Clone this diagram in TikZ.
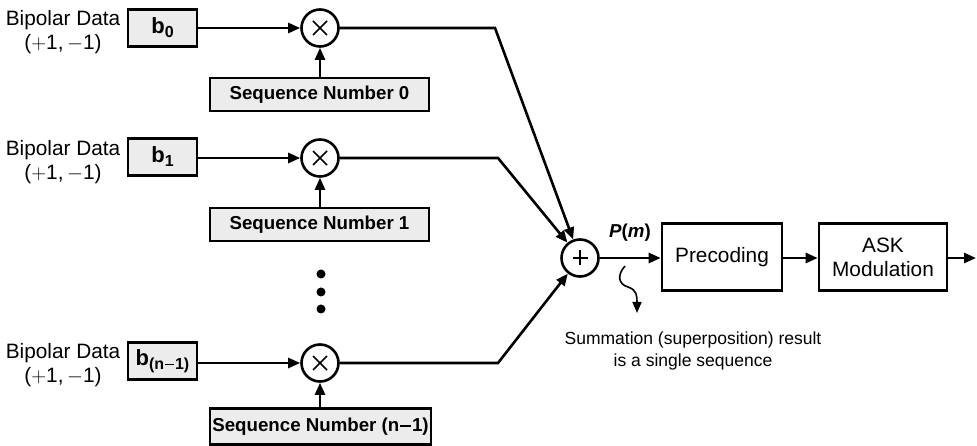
\documentclass[tikz,border=0pt]{standalone}
\usepackage{fontspec}
\setmainfont{Liberation Sans}
\usetikzlibrary{arrows.meta}
\newcommand{\rfont}{\fontsize{20.8bp}{24bp}\selectfont}
\newcommand{\bfontx}{\fontsize{18.7bp}{22bp}\selectfont\bfseries}
\newcommand{\afont}{\fontsize{17.5bp}{22bp}\selectfont}
\newcommand{\bminus}{\kern0.04em\rule[0.24em]{0.6em}{0.1em}\kern0.04em}
\newcommand{\bsub}[1]{\textbf{\fontsize{22bp}{22bp}\selectfont b\raisebox{-4bp}{\fontsize{16bp}{16bp}\selectfont #1}}}
\newcommand{\bipolar}{Bipolar Data\\($+$1,\,$-$1)}
\tikzset{
  lw/.style={line width=2.6bp},
  conn/.style={lw, -{Triangle[length=12bp,width=10bp]}},
  databox/.style={draw, lw, fill=gray!15, minimum width=69bp, minimum height=37bp, inner sep=0pt},
  seqbox/.style={draw, lw, fill=gray!15, minimum width=219bp, minimum height=33bp, inner sep=0pt, font=\bfontx},
  opnode/.style={draw, circle, lw, minimum size=37bp, inner sep=0pt, fill=white},
  procbox/.style={draw, lw, minimum height=67bp, inner sep=0pt, align=center, font=\rfont},
  lbl/.style={align=center, font=\rfont, inner sep=0pt},
  ann/.style={align=center, font=\afont, inner sep=0pt},
  sym/.style={line width=1.7bp},
  dotm/.style={fill=black},
}
\begin{document}
\begin{tikzpicture}[x=1bp,y=-1bp]
\useasboundingbox (0,0) rectangle (977,446);
% sum and processing chain
\node[opnode] (sum) at (580,258) {};
\draw[sym] (sum.center) ++(-7.5bp,0) -- ++(15bp,0);
\draw[sym] (sum.center) ++(0,-7.5bp) -- ++(0,15bp);
\node[procbox, minimum width=120bp] (pre) at (722,257) {Precoding};
\node[procbox, minimum width=128bp] (ask) at (883,257) {ASK\\Modulation};
\coordinate (out) at (976,258);
\node[font=\bfontx, inner sep=0pt] (pm) at (630,233) {\textit{P}(\textit{m})};
\draw[conn] (sum.east) -- (sum.east -| pre.west);
\draw[conn] (pre.east |- sum) -- (ask.west |- sum);
\draw[conn] (ask.east |- sum) -- (out);
% annotation
\coordinate (sq0) at (625,266);
\coordinate (sq1) at (628,287);
\coordinate (sq2) at (637,313);
\draw[line width=1.6bp, -{Triangle[length=11bp,width=9bp]}] (sq0) .. controls (617,275) and (618,284) .. (sq1) .. controls (637,290) and (637,296) .. (sq2);
\node[ann] (note) at (693,351) {Summation (superposition) result\\is a single sequence};
% row 0
\node[lbl] (bd0) at (63,32) {\bipolar};
\node[databox] (b0) at (162.5,28) {\bsub{0}};
\node[opnode] (m0) at (320,28) {};
\draw[sym] (m0.center) ++(-7bp,-7bp) -- ++(14bp,14bp);
\draw[sym] (m0.center) ++(-7bp,7bp) -- ++(14bp,-14bp);
\node[seqbox] (s0) at (319.5,94.5) {Sequence Number 0};
\coordinate (k0) at (495,28);
\draw[conn] (b0.east |- m0) -- (m0);
\draw[conn] (s0.north -| m0) -- (m0);
\draw[conn] (m0) -- (k0) -- (sum);
% row 1
\node[lbl] (bd1) at (63,162) {\bipolar};
\node[databox] (b1) at (162.5,157) {\bsub{1}};
\node[opnode] (m1) at (320,158) {};
\draw[sym] (m1.center) ++(-7bp,-7bp) -- ++(14bp,14bp);
\draw[sym] (m1.center) ++(-7bp,7bp) -- ++(14bp,-14bp);
\node[seqbox] (s1) at (319.5,224.5) {Sequence Number 1};
\coordinate (k1) at (498,158);
\draw[conn] (b1.east |- m1) -- (m1);
\draw[conn] (s1.north -| m1) -- (m1);
\draw[conn] (m1) -- (k1) -- (sum);
% dots
\fill[dotm] (321,274) circle (4.5bp);
\fill[dotm] (321,292) circle (4.5bp);
\fill[dotm] (321,309) circle (4.5bp);
% row n-1
\node[lbl] (bdn) at (63,365) {\bipolar};
\node[databox] (bn) at (162.5,361) {\bsub{(n\bminus 1)}};
\node[opnode] (mn) at (320,363) {};
\draw[sym] (mn.center) ++(-7bp,-7bp) -- ++(14bp,14bp);
\draw[sym] (mn.center) ++(-7bp,7bp) -- ++(14bp,-14bp);
\node[seqbox, minimum width=221bp, minimum height=36bp] (sn) at (320.5,426.5) {Sequence Number (n\bminus 1)};
\coordinate (kn) at (498,363);
\draw[conn] (bn.east |- mn) -- (mn);
\draw[conn] (sn.north -| mn) -- (mn);
\draw[conn] (mn) -- (kn) -- (sum);
\end{tikzpicture}
\end{document}
